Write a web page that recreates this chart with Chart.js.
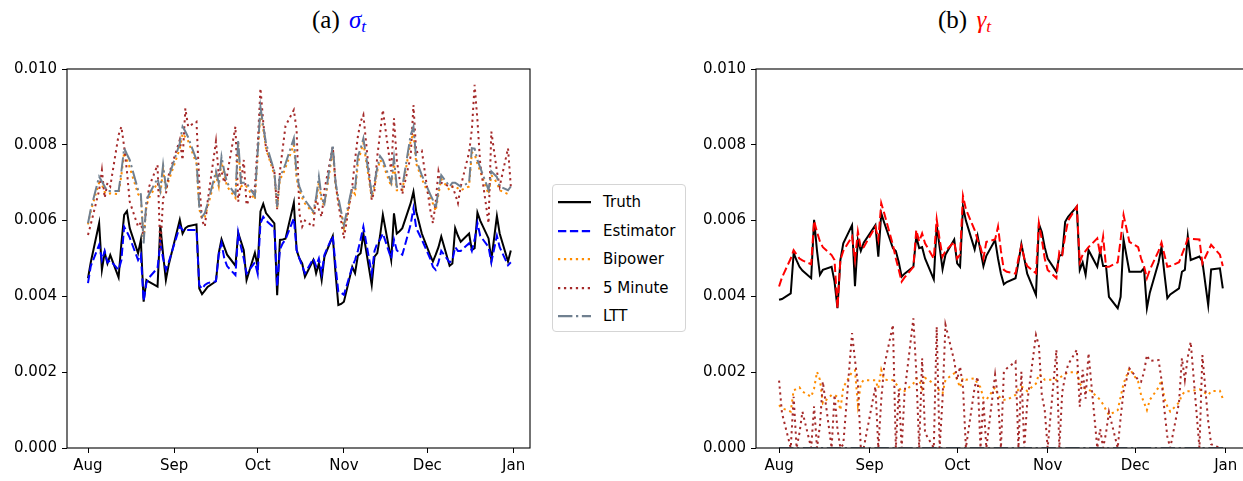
<!DOCTYPE html>
<html>
<head>
<meta charset="utf-8">
<script src="https://cdn.jsdelivr.net/npm/chart.js@4.4.1/dist/chart.umd.min.js"></script>
<style>
body { margin: 0; width: 1243px; height: 481px; overflow: hidden; position: relative; background: #fff; font-family: "DejaVu Sans", sans-serif; }
canvas { position: absolute; top: 0; }
.title { position: absolute; top: 6px; font-family: "Liberation Serif", serif; font-size: 25px; line-height: 28px; white-space: nowrap; color: #000; }
.title span { margin-left: 3px; }
.title sub { font-size: 70%; vertical-align: -0.25em; line-height: 0; }
#legend { position: absolute; left: 552px; top: 184px; width: 134px; height: 148px; border: 1px solid #d5d5d5; border-radius: 4px; box-sizing: border-box; background: #fff; }
.row { position: absolute; left: 0; height: 20px; display: flex; align-items: center; font-size: 15px; color: #000; white-space: nowrap; }
.row svg { margin-left: 5px; width: 33px; height: 6px; }
.row span { margin-left: 12px; }
</style>
</head>
<body>
<div class="title" style="left:312px">(a) <span style="color:#0000ff"><i>σ</i><sub><i>t</i></sub></span></div>
<div class="title" style="left:938px">(b) <span style="color:#ff0000"><i>γ</i><sub><i>t</i></sub></span></div>

<canvas id="sigma" width="540" height="481" style="left:0"></canvas>
<canvas id="gamma" width="560" height="481" style="left:690px"></canvas>

<div id="legend">
  <div class="row" style="top:7px"><svg><line x1="0" y1="3" x2="33" y2="3" stroke="#000" stroke-width="2.25"/></svg><span>Truth</span></div>
  <div class="row" style="top:35.6px"><svg><line x1="0" y1="3" x2="33" y2="3" stroke="#0000ff" stroke-width="2.25" stroke-dasharray="8.3 3.6"/></svg><span>Estimator</span></div>
  <div class="row" style="top:64.2px"><svg><line x1="0" y1="3" x2="33" y2="3" stroke="#ff8c00" stroke-width="2.25" stroke-dasharray="2.25 3.7"/></svg><span>Bipower</span></div>
  <div class="row" style="top:92.8px"><svg><line x1="0" y1="3" x2="33" y2="3" stroke="#a52a2a" stroke-width="2.25" stroke-dasharray="2.25 3.7"/></svg><span>5 Minute</span></div>
  <div class="row" style="top:121.4px"><svg><line x1="0" y1="3" x2="33" y2="3" stroke="#708090" stroke-width="2.25" stroke-dasharray="14.4 3.6 2.25 3.6"/></svg><span>LTT</span></div>
</div>

<script>
// trading days, counted in days since 1 Aug
const days = [0, 1, 4, 5, 6, 7, 8, 11, 12, 13, 14, 15, 18, 19, 20, 21, 22, 25, 26, 27, 28, 29,
  33, 34, 35, 36, 39, 40, 41, 42, 43, 46, 47, 48, 49, 50, 53, 54, 55, 56, 57, 60,
  61, 62, 63, 64, 67, 68, 69, 70, 71, 74, 75, 76, 77, 78, 81, 82, 83, 84, 85, 88, 89, 90, 91,
  92, 95, 96, 97, 98, 99, 102, 103, 104, 105, 106, 109, 110, 111, 112, 113, 116, 117, 118, 120,
  123, 124, 125, 126, 127, 130, 131, 132, 133, 134, 137, 138, 139, 140, 141, 144, 145, 147, 148, 151, 152];

const monthTicks = [0, 31, 61, 92, 122, 153];
const monthLabels = ['Aug', 'Sep', 'Oct', 'Nov', 'Dec', 'Jan'];
const yTicks = [0, 0.002, 0.004, 0.006, 0.008, 0.010];

// all series below are in units of 1e-3
// (a) sigma_t
const sigmaTruth = [4.48, 4.9, 5.93, 4.70, 5.16, 4.87, 5.09, 4.50, 5.4, 6.15, 6.25, 5.8, 5.14, 5.49, 3.86, 4.43, 4.38, 4.26, 5.87, 5.1, 4.43, 4.83,
  6.02, 5.66, 5.80, 5.85, 5.90, 4.21, 4.06, 4.15, 4.25, 4.4, 5.14, 5.51, 5.3, 5.1, 4.81, 5.68, 5.45, 5.22, 4.43, 5.15,
  4.78, 6.24, 6.44, 6.2, 5.93, 4.03, 5.49, 5.5, 5.52, 6.47, 5.22, 5.0, 4.87, 4.52, 4.96, 4.61, 4.87, 4.43, 5.05, 5.59, 4.6, 3.77, 3.8,
  3.86, 4.78, 4.61, 5.07, 5.14, 5.66, 4.30, 5.05, 5.14, 5.6, 6.15, 4.96, 6.19, 5.66, 5.72, 5.80, 6.46, 6.76, 6.24, 5.66,
  5.09, 4.92, 5.1, 5.3, 5.58, 4.81, 4.87, 5.80, 5.6, 5.44, 5.66, 5.22, 5.27, 6.21, 6.0, 5.53, 4.96, 6.12, 5.66, 4.92, 5.21];
const sigmaEstimator = [4.35, 4.8, 5.36, 4.96, 5.2, 4.9, 4.95, 4.7, 4.95, 5.84, 5.7, 5.55, 4.96, 5.1, 3.88, 4.35, 4.5, 4.75, 5.40, 5.0, 4.7, 4.9,
  5.85, 5.75, 5.75, 5.75, 5.75, 4.3, 4.2, 4.3, 4.35, 4.4, 5.1, 5.4, 5.0, 4.8, 4.56, 5.68, 5.3, 5.0, 4.6, 4.9,
  4.6, 5.93, 6.1, 6.0, 5.8, 4.26, 5.24, 5.4, 5.5, 6.06, 5.22, 5.0, 4.8, 4.61, 5.0, 4.8, 5.0, 4.6, 5.1, 5.6, 4.8, 4.12, 4.1,
  4.04, 4.78, 4.96, 5.2, 5.5, 5.84, 4.6, 5.2, 5.4, 5.5, 5.66, 5.0, 5.5, 5.22, 5.15, 5.1, 5.9, 6.32, 5.8, 5.5,
  5.0, 4.78, 4.7, 4.9, 5.2, 4.9, 4.95, 5.3, 5.2, 5.2, 5.4, 5.2, 5.5, 5.93, 5.6, 5.3, 4.9, 5.6, 5.3, 4.82, 4.9];
const sigmaBipower = [5.9, 6.25, 7.0, 6.95, 6.75, 6.7, 6.72, 6.7, 7.2, 7.8, 7.6, 7.4, 6.7, 6.6, 5.5, 6.4, 6.6, 7.0, 6.7, 7.35, 6.8, 7.05,
  7.9, 8.3, 8.2, 8.1, 7.5, 6.3, 6.05, 6.1, 6.35, 7.2, 6.9, 7.55, 7.2, 6.9, 6.6, 8.0, 6.9, 6.95, 6.9, 6.55,
  7.7, 8.9, 8.4, 7.9, 7.2, 6.3, 7.1, 7.2, 7.4, 8.0, 7.1, 6.8, 6.6, 6.45, 6.2, 6.5, 7.0, 6.5, 6.4, 7.85, 6.9, 6.5, 6.2,
  5.8, 6.8, 6.7, 7.5, 7.8, 8.05, 6.6, 6.9, 7.3, 7.6, 7.5, 6.9, 7.5, 6.8, 6.8, 6.8, 8.1, 8.3, 7.5, 7.1,
  6.6, 6.45, 6.25, 6.7, 7.1, 6.8, 6.9, 6.9, 6.85, 6.8, 6.9, 7.8, 7.75, 7.5, 7.3, 6.7, 7.2, 7.0, 6.8, 6.7, 6.7];
const sigmaFiveMin = [5.62, 5.9, 6.8, 7.33, 6.6, 7.0, 6.9, 8.26, 8.48, 7.95, 7.3, 6.5, 5.84, 5.95, 5.6, 6.4, 6.9, 7.47, 5.22, 6.6, 6.7, 7.2,
  8.13, 7.6, 8.96, 8.48, 8.61, 7.0, 6.0, 5.84, 6.5, 8.09, 7.2, 7.3, 7.0, 7.2, 8.48, 6.5, 7.0, 7.6, 6.41, 6.9,
  8.0, 9.49, 8.6, 7.9, 7.3, 6.3, 7.3, 7.9, 8.5, 8.92, 8.39, 6.19, 5.84, 6.0, 5.84, 6.63, 6.3, 6.1, 6.81, 7.95, 7.0, 6.45, 6.0,
  5.53, 6.9, 7.6, 8.21, 8.61, 8.79, 6.54, 6.8, 7.7, 8.3, 8.92, 7.3, 8.7, 7.6, 7.1, 6.7, 7.7, 9.05, 7.8, 7.85,
  6.3, 5.93, 6.5, 7.3, 7.0, 6.9, 6.9, 6.7, 6.46, 6.9, 7.8, 8.4, 9.58, 8.65, 7.5, 5.93, 8.35, 7.3, 6.9, 7.91, 6.9];
const sigmaLTT = [5.93, 6.3, 7.16, 7.03, 6.9, 6.78, 6.78, 6.78, 7.3, 7.91, 7.75, 7.6, 6.81, 6.7, 5.40, 6.54, 6.7, 7.11, 6.8, 7.47, 6.89, 7.15,
  8.04, 8.48, 8.35, 8.2, 7.6, 6.37, 6.10, 6.2, 6.45, 7.3, 7.0, 7.69, 7.3, 7.0, 6.68, 8.13, 7.0, 7.0, 6.99, 6.65,
  7.8, 9.0, 8.5, 8.04, 7.3, 6.37, 7.2, 7.3, 7.5, 8.17, 7.2, 6.9, 6.7, 6.54, 6.24, 6.6, 7.16, 6.6, 6.45, 8.0, 7.0, 6.6, 6.24,
  5.88, 6.9, 6.8, 7.69, 7.9, 8.17, 6.72, 7.0, 7.4, 7.7, 7.6, 7.0, 7.65, 6.89, 6.89, 6.89, 8.26, 8.48, 7.6, 7.2,
  6.7, 6.54, 6.32, 6.8, 7.2, 6.9, 7.0, 7.0, 6.95, 6.9, 7.0, 7.91, 7.9, 7.6, 7.4, 6.81, 7.3, 7.15, 6.9, 6.8, 6.9];

// (b) gamma_t
const gammaTruth = [3.91, 3.93, 4.08, 5.14, 4.95, 4.78, 4.68, 4.48, 6.02, 5.2, 4.57, 4.7, 4.78, 4.39, 3.69, 4.96, 5.4, 5.88, 4.27, 5.49, 5.2, 5.42,
  5.88, 5.05, 6.19, 5.95, 5.27, 5.2, 4.9, 4.52, 4.6, 4.78, 5.58, 5.27, 5.3, 5.0, 4.45, 5.88, 5.3, 4.72, 5.1, 5.5,
  4.87, 4.78, 6.37, 6.0, 5.24, 5.6, 5.2, 4.80, 5.07, 5.49, 5.0, 4.6, 4.32, 4.38, 4.48, 4.9, 5.38, 5.0, 4.6, 4.04, 5.91, 5.7, 5.3,
  5.0, 4.65, 5.07, 5.1, 5.97, 6.1, 6.37, 4.70, 4.9, 4.57, 5.22, 4.78, 5.2, 4.8, 4.8, 3.99, 3.69, 3.99, 5.5, 4.65,
  4.65, 4.65, 4.74, 3.69, 4.1, 4.9, 5.3, 4.6, 3.95, 4.05, 4.21, 4.65, 4.7, 5.59, 4.96, 5.05, 4.92, 3.77, 4.71, 4.74, 4.21];
const gammaEstimator = [4.26, 4.5, 5.0, 5.22, 5.1, 5.0, 4.95, 4.85, 5.99, 5.7, 5.45, 5.3, 5.09, 4.96, 3.69, 4.96, 5.2, 5.58, 4.96, 5.71, 5.27, 5.3,
  5.84, 5.5, 6.46, 6.2, 5.36, 5.0, 4.7, 4.39, 4.5, 4.78, 5.75, 5.45, 5.66, 5.4, 5.0, 6.03, 5.5, 5.05, 5.2, 5.44,
  5.0, 5.1, 6.65, 6.3, 5.75, 5.5, 5.3, 5.0, 5.44, 5.5, 5.84, 5.2, 4.70, 4.65, 4.6, 5.0, 5.33, 5.0, 4.8, 4.61, 5.93, 5.5, 5.0,
  4.7, 4.48, 5.18, 5.1, 5.6, 6.0, 6.37, 4.9, 5.1, 5.2, 5.3, 5.53, 5.1, 5.58, 4.78, 4.78, 4.9, 5.5, 6.15, 5.44,
  5.3, 5.0, 4.8, 4.48, 4.7, 5.2, 5.42, 5.1, 4.78, 4.8, 4.9, 5.1, 5.3, 5.53, 5.52, 5.5, 4.87, 5.2, 5.36, 5.1, 4.8];
const gammaBipower = [1.13, 1.05, 0.96, 1.53, 1.55, 1.60, 1.49, 1.35, 1.57, 2.01, 1.8, 1.18, 1.4, 1.4, 1.35, 1.0, 1.6, 2.01, 2.05, 1.13, 1.7, 1.79,
  1.79, 1.57, 2.06, 1.8, 1.79, 1.7, 1.6, 1.49, 1.5, 1.7, 1.84, 1.8, 1.57, 1.85, 1.7, 1.62, 1.5, 1.44, 1.8, 1.97,
  1.8, 1.6, 1.85, 1.8, 1.84, 1.7, 1.6, 1.31, 1.27, 1.6, 1.4, 1.3, 1.27, 1.27, 1.4, 1.55, 1.62, 1.58, 1.5, 1.7, 1.95, 1.9, 1.8,
  1.8, 1.8, 1.85, 1.9, 1.95, 2.0, 2.0, 1.7, 1.6, 1.57, 1.55, 1.35, 1.27, 1.15, 1.0, 0.87, 1.0, 1.35, 1.7, 2.1,
  1.75, 1.4, 1.2, 1.0, 1.27, 1.6, 1.79, 1.3, 1.1, 0.96, 1.2, 1.4, 1.49, 1.5, 1.5, 1.55, 1.5, 1.4, 1.5, 1.51, 1.3];
const gammaFiveMin = [1.78, 0.92, 0, 1.35, 0, 0.4, 0.96, 0, 1.1, 0, 0.6, 1.75, 0, 1.4, 0.5, 0, 0.1, 3.03, 2.32, 1.7, 0, 0,
  1.62, 0, 1.27, 2.15, 3.25, 0, 1.55, 0, 1.47, 3.42, 2.0, 0, 2.37, 0.4, 0, 3.2, 0, 1.3, 3.25, 2.3,
  1.8, 2.15, 1.6, 0, 1.6, 1.88, 0, 1.27, 0, 1.93, 1.3, 0, 2.01, 2.1, 2.28, 0, 2.01, 0, 1.2, 2.98, 2.7, 1.4, 1.0,
  0, 2.59, 0, 1.47, 1.9, 2.2, 2.59, 1.09, 2.06, 1.3, 2.5, 0, 0.5, 0, 0.4, 0.95, 0, 0.8, 1.5, 2.1,
  1.8, 1.75, 2.0, 2.45, 2.3, 2.32, 1.8, 1.0, 0.3, 0, 1.2, 2.37, 1.8, 2.4, 2.8, 0, 2.45, 0.7, 0.1, 0, 0];
const gammaLTT = [0, 0, 0, 0, 0, 0, 0, 0, 0, 0, 0, 0, 0, 0, 0, 0, 0, 0, 0, 0, 0, 0,
  0, 0, 0, 0, 0, 0, 0, 0, 0, 0, 0, 0, 0, 0, 0, 0, 0, 0, 0, 0,
  0, 0, 0, 0, 0, 0, 0, 0, 0, 0, 0, 0, 0, 0, 0, 0, 0, 0, 0, 0, 0, 0, 0,
  0, 0, 0, 0, 0, 0, 0, 0, 0, 0, 0, 0, 0, 0, 0, 0, 0, 0, 0, 0,
  0, 0, 0, 0, 0, 0, 0, 0, 0, 0, 0, 0, 0, 0, 0, 0, 0, 0, 0, 0, 0];

const DASHED = [8.3, 3.6];
const DOTTED = [2.25, 3.7];
const DASHDOT = [14.4, 3.6, 2.25, 3.6];

// spines on all four sides, drawn over the lines like matplotlib
const frame = {
  id: 'frame',
  afterDatasetsDraw(chart) {
    const { ctx, chartArea: a } = chart;
    ctx.save();
    ctx.strokeStyle = '#000';
    ctx.lineWidth = 1.1;
    ctx.strokeRect(a.left, a.top, a.right - a.left, a.bottom - a.top);
    ctx.restore();
  }
};

function series(label, values, color, dash, order) {
  return {
    label: label,
    order: order,
    data: days.map((d, i) => ({ x: d, y: values[i] * 1e-3 })),
    borderColor: color,
    borderWidth: 2,
    borderDash: dash,
    borderCapStyle: 'butt',
    pointRadius: 0,
    tension: 0,
    fill: false
  };
}

const tickFont = { family: 'DejaVu Sans', size: 15 };

function makeChart(id, datasets, xMin, xMax, yWidth, padRight) {
  return new Chart(document.getElementById(id), {
    type: 'line',
    data: { datasets: datasets },
    options: {
      responsive: false,
      animation: false,
      events: [],
      layout: { padding: { top: 69, right: padRight, left: 0, bottom: 0 } },
      plugins: { legend: { display: false }, tooltip: { enabled: false } },
      scales: {
        x: {
          type: 'linear',
          min: xMin,
          max: xMax,
          afterBuildTicks: ax => { ax.ticks = monthTicks.map(v => ({ value: v })); },
          afterFit: ax => { ax.height = 33; },
          ticks: {
            callback: v => monthLabels[monthTicks.indexOf(v)],
            color: '#000', font: tickFont, padding: 4, maxRotation: 0, autoSkip: false
          },
          grid: { drawOnChartArea: false, tickLength: 5, color: '#000', lineWidth: 1 },
          border: { display: false }
        },
        y: {
          min: 0,
          max: 0.010,
          afterBuildTicks: ax => { ax.ticks = yTicks.map(v => ({ value: v })); },
          afterFit: ax => { ax.width = yWidth; },
          ticks: { callback: v => v.toFixed(3), color: '#000', font: tickFont, padding: 5 },
          grid: { drawOnChartArea: false, tickLength: 5, color: '#000', lineWidth: 1 },
          border: { display: false }
        }
      }
    },
    plugins: [frame]
  });
}

makeChart('sigma', [
  series('Truth', sigmaTruth, '#000000', [], 5),
  series('Estimator', sigmaEstimator, '#0000ff', DASHED, 4),
  series('Bipower', sigmaBipower, '#ff8c00', DOTTED, 3),
  series('5 Minute', sigmaFiveMin, '#a52a2a', DOTTED, 2),
  series('LTT', sigmaLTT, '#708090', DASHDOT, 1)
], -7.55, 158.9, 67, 10);

makeChart('gamma', [
  series('Truth', gammaTruth, '#000000', [], 5),
  series('Estimator', gammaEstimator, '#ff0000', DASHED, 4),
  series('Bipower', gammaBipower, '#ff8c00', DOTTED, 3),
  series('5 Minute', gammaFiveMin, '#a52a2a', DOTTED, 2),
  series('LTT', gammaLTT, '#708090', DASHDOT, 1)
], -7.9, 159.6, 66, 5);
</script>
</body>
</html>
